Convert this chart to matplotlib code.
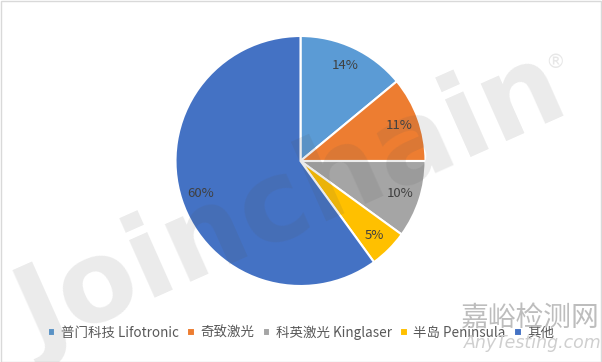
import matplotlib
matplotlib.use("Agg")
import matplotlib.pyplot as plt
from matplotlib.patches import Rectangle

plt.rcParams['font.family'] = ['Noto Sans CJK SC', 'DejaVu Sans']

labels = ['普门科技 Lifotronic', '奇致激光', '科英激光 Kinglaser', '半岛 Peninsula', '其他']
values = [14, 11, 10, 5, 60]
colors = ['#5B9BD5', '#ED7D31', '#A5A5A5', '#FFC000', '#4472C4']

W, H = 602, 362
fig = plt.figure(figsize=(W / 100, H / 100), dpi=100)
fig.patch.set_facecolor('white')

cx, cy, r = 300.5, 161, 125
ax = fig.add_axes([(cx - r) / W, 1 - (cy + r) / H, 2 * r / W, 2 * r / H])
wedges, texts, autotexts = ax.pie(
    values, colors=colors, startangle=90, counterclock=False,
    autopct=lambda p: f'{p:.0f}%', pctdistance=0.84,
    wedgeprops=dict(edgecolor='white', linewidth=1.5),
    textprops=dict(fontsize=9.5, color='#404040'))
ax.set_xlim(-1, 1)
ax.set_ylim(-1, 1)
ax.set_aspect('equal')
ax.axis('off')

leg = fig.legend(wedges, labels, loc='center', bbox_to_anchor=(0.5, 1 - 333 / H),
                 ncol=5, frameon=False, fontsize=9.7, labelcolor='#595959',
                 handlelength=0.55, handleheight=0.55, handletextpad=0.4,
                 columnspacing=0.65, borderaxespad=0)

# watermark
fig.text(292 / W, 1 - 205 / H, 'Joinchain', fontsize=82, fontweight='bold',
         family='DejaVu Sans', color='#555555', alpha=0.12, rotation=24,
         ha='center', va='center', zorder=10)
fig.text(555 / W, 1 - 62 / H, '®', fontsize=14, color='#555555', alpha=0.14,
         ha='center', va='center', family='DejaVu Sans', zorder=10)
fig.text(530 / W, 1 - 318 / H, '嘉峪检测网', fontsize=20, color='#bdbdbd',
         ha='center', va='center', zorder=10)
fig.text(533 / W, 1 - 343 / H, 'AnyTesting.com', fontsize=12.5, color='#cfcfcf',
         style='italic', ha='center', va='center', family='DejaVu Sans', zorder=10)

fig.add_artist(Rectangle((0.5 / W, 0.5 / H), 1 - 1.5 / W, 1 - 1.5 / H,
                         transform=fig.transFigure, fill=False,
                         edgecolor='#d9d9d9', linewidth=1))

fig.savefig('out.png', dpi=100, facecolor='white')
